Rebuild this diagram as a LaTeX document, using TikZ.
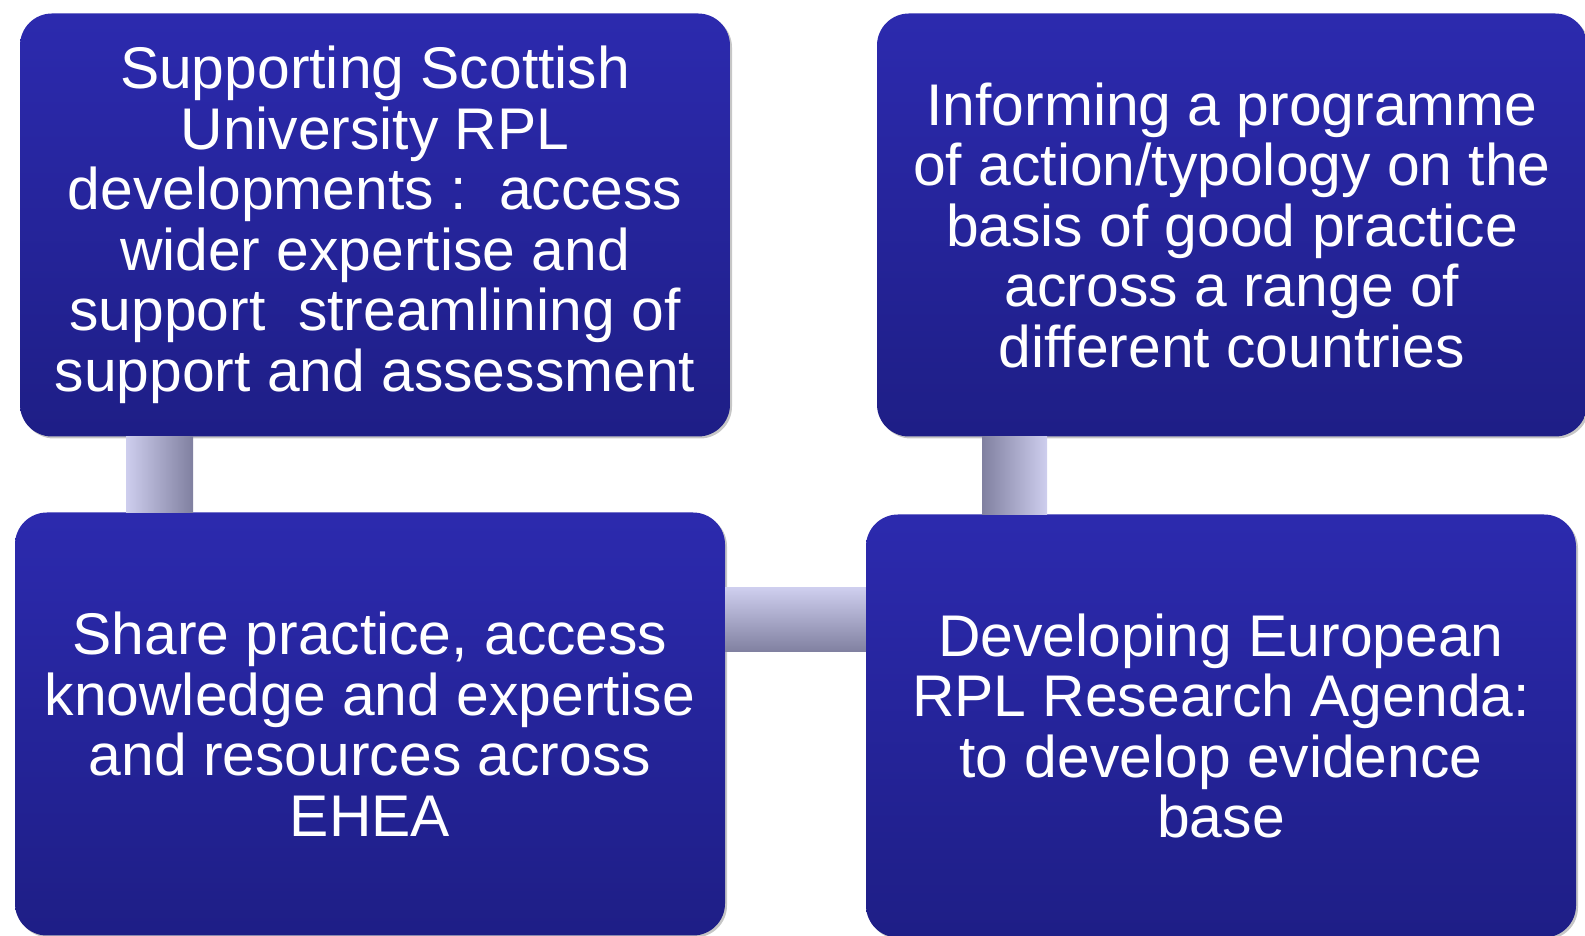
\documentclass[tikz,border=0pt]{standalone}
\usepackage{fontspec}
\setmainfont{Liberation Sans}
\usetikzlibrary{calc,shadows}

\definecolor{boxtop}{RGB}{44,42,174}
\definecolor{boxbottom}{RGB}{30,30,134}
\definecolor{linklight}{RGB}{206,206,238}
\definecolor{linkmid}{RGB}{154,154,186}
\definecolor{linkdark}{RGB}{128,128,160}

\tikzset{
  box/.style={rounded corners=32pt, minimum width=710pt, minimum height=423pt,
    top color=boxtop, bottom color=boxbottom, text=white, align=center,
    drop shadow={opacity=0.45, shadow xshift=2pt, shadow yshift=-2pt},
    font=\fontsize{58.8}{60.5}\selectfont},
  linkl/.style={left color=linklight, middle color=linkmid, right color=linkdark},
  linkr/.style={left color=linkdark, middle color=linkmid, right color=linklight},
  linkh/.style={top color=linklight, middle color=linkmid, bottom color=linkdark}
}

\begin{document}
\begin{tikzpicture}[x=1pt,y=1pt]
\useasboundingbox (0,0) rectangle (1585,936);

% Kaesten
\node[box] (scot) at (375,711) {Supporting Scottish\\University RPL\\developments :\ \ access\\wider expertise and\\support\ \ streamlining of\\support and assessment};
\node[box] (inform) at (1232,711) {Informing a programme\\of action/typology on the\\basis of good practice\\across a range of\\different countries};
\node[box] (share) at (370,212) {Share practice, access\\knowledge and expertise\\and resources across\\EHEA};
\node[box] (europe) at (1221,210) {Developing European\\RPL Research Agenda:\\to develop evidence\\base};

% Verbindungen
\shade[linkl] (scot.south -| 126,0) rectangle (share.north -| 193,0);
\shade[linkh] (share.east |- 0,348) rectangle (europe.west |- 0,284);
\shade[linkr] (inform.south -| 982,0) rectangle (europe.north -| 1047,0);
\end{tikzpicture}
\end{document}
